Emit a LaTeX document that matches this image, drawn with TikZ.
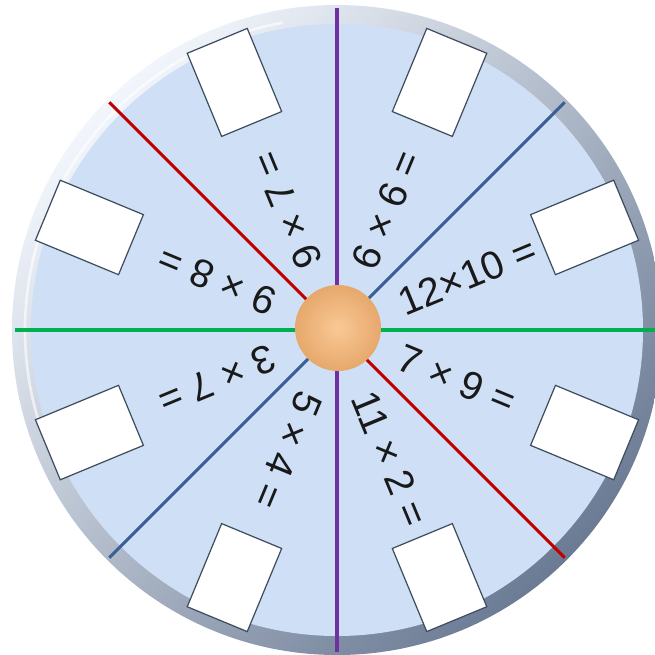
\documentclass[tikz,border=0pt]{standalone}
\usepackage{fontspec}
\setmainfont{Liberation Sans}
\definecolor{facecol}{HTML}{CFE0F6}
\definecolor{rimlight}{HTML}{F2F6FC}
\definecolor{rimdark}{HTML}{6B7B94}
\definecolor{spokepurple}{HTML}{7030A0}
\definecolor{spokegreen}{HTML}{00B050}
\definecolor{spokered}{HTML}{C00000}
\definecolor{spokeblue}{HTML}{3A5F95}
\definecolor{boxline}{HTML}{3F4D5F}
\definecolor{knobin}{HTML}{FAC895}
\definecolor{knobout}{HTML}{E6A86C}
\begin{document}
\begin{tikzpicture}[
    x=0.02cm, y=0.02cm,
    spoke/.style={line width=1.8pt},
    prob/.style={anchor=west, inner sep=0pt, font=\fontsize{22.5}{22.5}\selectfont, text=black!90},
    ansbox/.style={draw=boxline, fill=white, line width=0.7pt, minimum width=1.8cm, minimum height=1.3cm, inner sep=0pt},
    knob/.style={circle, inner sep=0pt, minimum size=1.72cm, inner color=knobin, outer color=knobout},
]

% ---- sizes ----
\def\rOut{325}
\def\rIn{306}
\def\rSpoke{322}
\def\rText{68}
\def\rBox{268}

\useasboundingbox (-337,-324) rectangle (318,330);

% ---- wheel ----
\shade[top color=rimlight, bottom color=rimdark, shading angle=45] (0,0) circle (\rOut);
\fill[facecol] (0,0) circle (\rIn);
\draw[white, opacity=0.6, line width=1.5pt] (100:312) arc (100:200:312);

% ---- spokes ----
\foreach \k in {0,...,7} {
  \coordinate (rim-\k) at (\k*45:\rSpoke);
}
\draw[spoke, spokegreen] (rim-4) -- (rim-0);
\draw[spoke, spokepurple] (rim-2) -- (rim-6);
\draw[spoke, spokered] (rim-3) -- (rim-7);
\draw[spoke, spokeblue] (rim-1) -- (rim-5);

% ---- sums and answer boxes ----
\foreach \a/\txt [count=\i] in {22.5/{12×10 =}, 67.5/{6 × 6 =}, 112.5/{9 × 7 =},
    157.5/{9 × 8 =}, 202.5/{3 × 7 =}, 247.5/{5 × 4 =}, 292.5/{11 × 2 =}, 337.5/{7 × 9 =}} {
  \node[prob, rotate=\a] (q\i) at (\a:\rText) {\txt};
  \node[ansbox, rotate=\a] (b\i) at (\a:\rBox) {};
}

% ---- hub ----
\node[knob] (hub) at (1,2) {};

\end{tikzpicture}
\end{document}
